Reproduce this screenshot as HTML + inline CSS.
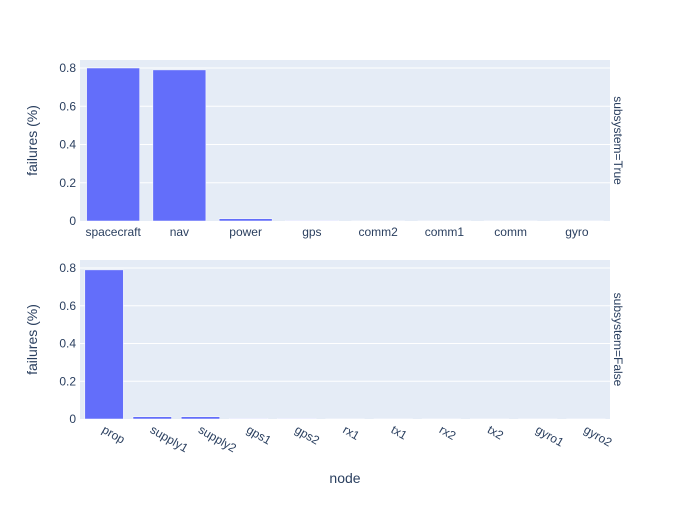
<!DOCTYPE html>
<html><head><meta charset="utf-8"><style>body{margin:0;background:#fff}svg{font-family:"Liberation Sans",sans-serif}</style></head>
<body>
<svg id="c" width="700" height="500"></svg>
<script>
const topCats=["spacecraft","nav","power","gps","comm2","comm1","comm","gyro"];
const topVals=[0.80,0.79,0.012,0.003,0.001,0.001,0.001,0.001];
const botCats=["prop","supply1","supply2","gps1","gps2","rx1","tx1","rx2","tx2","gyro1","gyro2"];
const botVals=[0.79,0.012,0.012,0.003,0.003,0.001,0.001,0.001,0.001,0.001,0.001];
const yTicks=[0,0.2,0.4,0.6,0.8];
const yTickLabels=["0","0.2","0.4","0.6","0.8"];
const svg=document.getElementById('c');const NS="http://www.w3.org/2000/svg";
function mk(t,a,txt){const e=document.createElementNS(NS,t);for(const k in a)e.setAttribute(k,a[k]);if(txt!==undefined)e.textContent=txt;svg.appendChild(e);return e;}
const X0=80,X1=610;
function panel(cats,vals,top,bot,rotate,label,pname){
  const ymax=0.8*(bot-top)/ ( (bot-top)-8 ) ;
  const ys=v=>bot-v/ymax*(bot-top);
  const bg=mk('rect',{x:X0,y:top,width:X1-X0,height:bot-top,fill:'#e5ecf6'});
  
  yTicks.forEach((t,i)=>{const y=ys(t);
    if(t>0){const g=mk('line',{x1:X0,x2:X1,y1:y,y2:y,stroke:'#fff','stroke-width':1});}
    const l=mk('text',{x:X0-4,y:y+4,'text-anchor':'end','font-size':12,fill:'#2a3f5f'},yTickLabels[i]);
    });
  const bw=(X1-X0)/cats.length;
  cats.forEach((c,i)=>{const cx=X0+bw*(i+0.5);const h=bot-ys(vals[i]);
    const r=mk('rect',{x:cx-bw*0.4,y:bot-h,width:bw*0.8,height:h,fill:'#636efa',stroke:'#fff','stroke-width':0.5});
    
    let t;
    if(rotate){t=mk('text',{x:0,y:0,'font-size':12,fill:'#2a3f5f',transform:`translate(${cx-3},${bot+13}) rotate(30)`},c);}
    else{t=mk('text',{x:cx,y:bot+15,'text-anchor':'middle','font-size':12,fill:'#2a3f5f'},c);}
    });
  const yt=mk('text',{'font-size':14,fill:'#2a3f5f','text-anchor':'middle',transform:`translate(37,${(top+bot)/2}) rotate(-90)`},'failures (%)');
  
  const ft=mk('text',{'font-size':12,fill:'#2a3f5f','text-anchor':'middle',transform:`translate(614,${(top+bot)/2}) rotate(90)`},label);
  
}
panel(topCats,topVals,60,221,false,'subsystem=True','top');
panel(botCats,botVals,260,419,true,'subsystem=False','bottom');
const xt=mk('text',{x:345,y:483,'text-anchor':'middle','font-size':14,fill:'#2a3f5f'},'node');

</script>
</body></html>
